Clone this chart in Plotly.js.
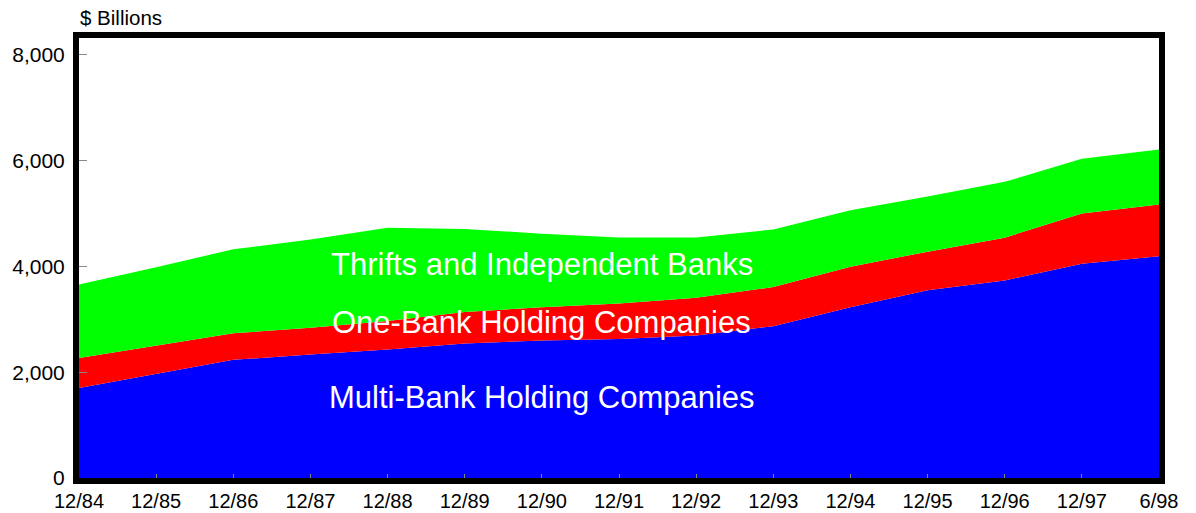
<!DOCTYPE html>
<html>
<head>
<meta charset="utf-8">
<script src="https://cdn.plot.ly/plotly-3.0.1.min.js"></script>
<style>html,body{margin:0;padding:0;background:#fff;}#chart{width:1196px;height:513px;}</style>
</head>
<body>
<div id="chart"></div>
<script>
const periods = ["12/84","12/85","12/86","12/87","12/88","12/89","12/90","12/91","12/92","12/93","12/94","12/95","12/96","12/97","6/98"];
const multiBank = [1700, 1970, 2235, 2335, 2430, 2545, 2600, 2630, 2695, 2870, 3230, 3550, 3735, 4050, 4195];
const oneBank   = [ 570,  530,  500,  505,  540,  595,  630,  670,  715,  740,  765,  730,  810,  950,  975];
const thrifts   = [1390, 1485, 1590, 1670, 1760, 1570, 1390, 1250, 1140, 1090, 1070, 1045, 1055, 1035, 1040];

const idx = periods.map((_, i) => i);
const font = "Arial, Liberation Sans, Helvetica, sans-serif";

const traces = [
  {x: idx, y: multiBank, name: "Multi-Bank Holding Companies", type: "scatter", mode: "lines",
   stackgroup: "one", fillcolor: "#0000ff", line: {width: 0, color: "#0000ff"}},
  {x: idx, y: oneBank, name: "One-Bank Holding Companies", type: "scatter", mode: "lines",
   stackgroup: "one", fillcolor: "#ff0000", line: {width: 0, color: "#ff0000"}},
  {x: idx, y: thrifts, name: "Thrifts and Independent Banks", type: "scatter", mode: "lines",
   stackgroup: "one", fillcolor: "#00ff00", line: {width: 0, color: "#00ff00"}}
];

const layout = {
  width: 1196, height: 513,
  margin: {l: 79, r: 37, t: 38, b: 35, pad: 0},
  paper_bgcolor: "#ffffff", plot_bgcolor: "#ffffff",
  showlegend: false,
  font: {family: font, size: 21, color: "#000"},
  xaxis: {
    range: [0, 14], tickmode: "array", tickvals: idx, ticktext: periods,
    showgrid: false, zeroline: false,
    showline: true, linewidth: 6, linecolor: "#000", mirror: true,
    ticks: "inside", ticklen: 4, tickcolor: "#888", tickwidth: 1,
    tickfont: {family: font, size: 20, color: "#000"}
  },
  yaxis: {
    range: [0, 8320], tickvals: [0, 2000, 4000, 6000, 8000],
    ticktext: ["0", "2,000", "4,000", "6,000", "8,000"],
    showgrid: false, zeroline: false,
    showline: true, linewidth: 6, linecolor: "#000", mirror: true,
    ticks: "inside", ticklen: 8, tickcolor: "#888", tickwidth: 1,
    ticklabelstandoff: 4,
    tickfont: {family: font, size: 21, color: "#000"}
  },
  annotations: [
    {text: "$ Billions", xref: "paper", yref: "paper", x: 0, y: 1, yshift: 7, xanchor: "left", yanchor: "bottom",
     showarrow: false, font: {family: font, size: 20.5, color: "#000"}, xshift: -1},
    {text: "Thrifts and Independent Banks", xref: "x", yref: "y", x: 6, y: 4040, showarrow: false,
     font: {family: font, size: 31, color: "#fff"}},
    {text: "One-Bank Holding Companies", xref: "x", yref: "y", x: 6, y: 2945, showarrow: false,
     font: {family: font, size: 31, color: "#fff"}},
    {text: "Multi-Bank Holding Companies", xref: "x", yref: "y", x: 6, y: 1525, showarrow: false,
     font: {family: font, size: 31, color: "#fff"}}
  ]
};

Plotly.newPlot("chart", traces, layout, {displayModeBar: false, staticPlot: true});
</script>
</body>
</html>
